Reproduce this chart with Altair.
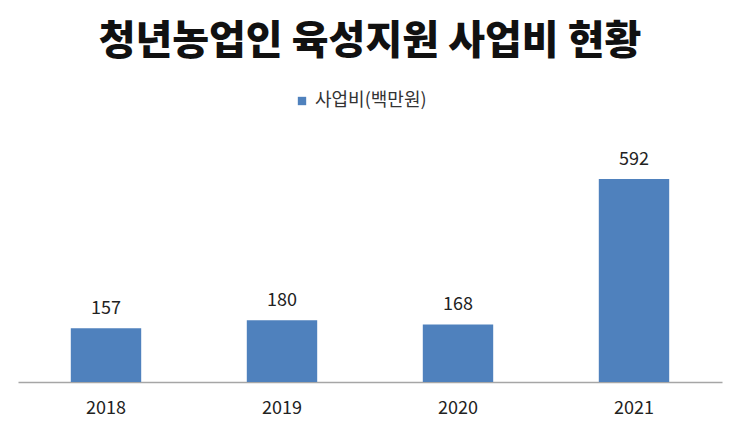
import pandas as pd
import altair as alt

# Values
years = ["2018", "2019", "2020", "2021"]
budget = [157, 180, 168, 592]
series = ["사업비(백만원)"] * len(years)

FONT = "Noto Sans CJK KR"
BLUE = "#4F81BD"

df = pd.DataFrame({"year": years, "budget": budget, "series": series})

x_enc = alt.X(
    "year:N",
    title=None,
    scale=alt.Scale(paddingInner=0.6, paddingOuter=0.3),
    axis=alt.Axis(
        labelAngle=0, labelFontSize=18, labelFont=FONT, labelColor="#222222",
        ticks=False, labelPadding=17, domainColor="#A6A6A6", domainWidth=1.5,
        grid=False,
    ),
)
y_enc = alt.Y("budget:Q", title=None, scale=alt.Scale(domain=[0, 700]), axis=None)

bars = alt.Chart(df).mark_bar(color=BLUE).encode(
    x=x_enc,
    y=y_enc,
    color=alt.Color(
        "series:N",
        scale=alt.Scale(range=[BLUE]),
        legend=alt.Legend(
            title=None, orient="none", legendX=275, legendY=-50,
            symbolType="square", symbolSize=70, symbolStrokeWidth=0,
            labelFontSize=18, labelFont=FONT, labelColor="#333333",
            labelOffset=4,
        ),
    ),
)

# Value labels above each bar
labels = alt.Chart(df).mark_text(
    baseline="alphabetic", dy=-14, fontSize=18, font=FONT, color="#222222"
).encode(x=x_enc, y=y_enc, text=alt.Text("budget:Q"))

chart = alt.layer(bars, labels).properties(
    width=704,
    height=240,
    autosize=alt.AutoSizeParams(type="none"),
    padding={"left": 10, "top": 134, "right": 10, "bottom": 40},
    title=alt.TitleParams(
        "청년농업인 육성지원 사업비 현황", font=FONT, fontSize=40,
        fontWeight=900, color="#111111", anchor="middle", frame="group",
        offset=30,
    ),
).configure_view(stroke=None)

chart.save("out.html", embed_options={"renderer": "svg", "actions": False})
